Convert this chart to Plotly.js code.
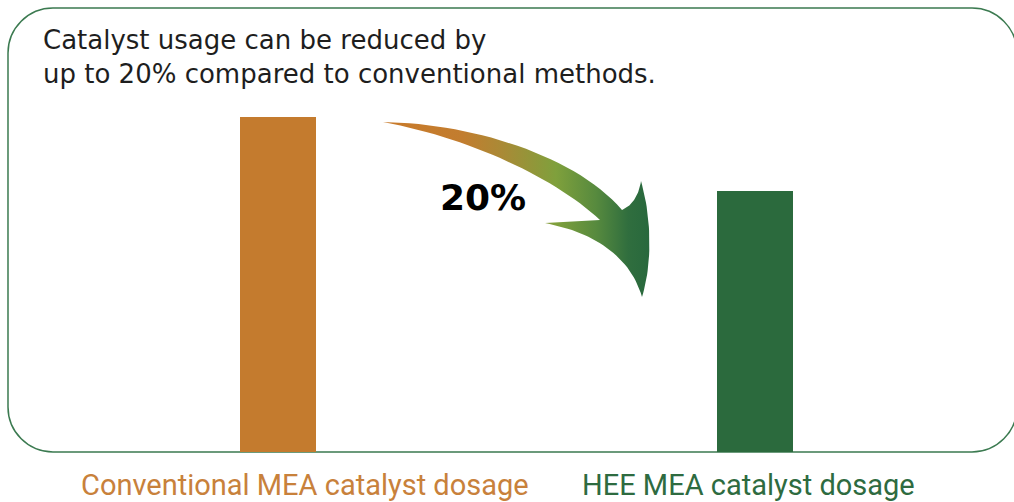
<!DOCTYPE html>
<html>
<head>
<meta charset="utf-8">
<script src="https://cdn.plot.ly/plotly-3.0.1.min.js"></script>
<style>
  html, body { margin: 0; padding: 0; background: #ffffff; }
  #chart { width: 1014px; height: 502px; }
</style>
</head>
<body>
<div id="chart"></div>
<script>
// ---- data ----
const categories = ['Conventional MEA catalyst dosage', 'HEE MEA catalyst dosage'];
const positions = [0, 1];
const dosage = [100, 78];
const barColors = ['#c47b2e', '#2b6a3d'];
const labelColors = ['#c8813b', '#2e6b40'];
const reductionText = '20%';
const headlineLines = ['Catalyst usage can be reduced by', 'up to 20% compared to conventional methods.'];

// ---- decoration geometry (overlay canvas axis, pixel-like units) ----
function cubic(p0, c1, c2, p3, n) {
  const pts = [];
  for (let i = 0; i <= n; i++) {
    const t = i / n, u = 1 - t;
    pts.push([
      u*u*u*p0[0] + 3*u*u*t*c1[0] + 3*u*t*t*c2[0] + t*t*t*p3[0],
      u*u*u*p0[1] + 3*u*u*t*c1[1] + 3*u*t*t*c2[1] + t*t*t*p3[1]
    ]);
  }
  return pts;
}
const arrowSegments = [
  [[383,122],[470,123],[575,155],[622,210]],
  [[622,210],[632,206],[639,195],[641,181]],
  [[641,181],[651,215],[653,262],[642,297]],
  [[642,297],[630,255],[592,232],[545,223]],
  [[545,223],[565,222],[585,221],[600,220]],
  [[600,220],[555,178],[470,138],[383,122]]
];
let arrowPts = [];
arrowSegments.forEach(s => { arrowPts = arrowPts.concat(cubic(s[0], s[1], s[2], s[3], 30)); });

function roundRectPath(x0, y0, x1, y1, r) {
  const k = 0.5523 * r;
  return `M ${x0+r},${y0} L ${x1-r},${y0} C ${x1-r+k},${y0} ${x1},${y0+r-k} ${x1},${y0+r} ` +
         `L ${x1},${y1-r} C ${x1},${y1-r+k} ${x1-r+k},${y1} ${x1-r},${y1} ` +
         `L ${x0+r},${y1} C ${x0+r-k},${y1} ${x0},${y1-r+k} ${x0},${y1-r} ` +
         `L ${x0},${y0+r} C ${x0},${y0+r-k} ${x0+r-k},${y0} ${x0+r},${y0} Z`;
}

const bars = {
  type: 'bar',
  x: positions,
  y: dosage,
  width: 0.159,
  marker: { color: barColors, line: { width: 0 } },
  hoverinfo: 'skip'
};

const arrow = {
  type: 'scatter',
  mode: 'lines',
  x: arrowPts.map(p => p[0]),
  y: arrowPts.map(p => p[1]),
  xaxis: 'x2',
  yaxis: 'y2',
  fill: 'toself',
  fillgradient: {
    type: 'horizontal',
    colorscale: [[0, '#c97a2a'], [0.3, '#c27d2f'], [0.45, '#a98a36'], [0.65, '#7fa03c'],
                 [0.8, '#578a3e'], [0.92, '#306e3e'], [1, '#28683d']]
  },
  line: { width: 0, color: 'rgba(0,0,0,0)' },
  hoverinfo: 'skip'
};

const TITLE_FONT = '"DejaVu Sans", "Noto Sans", sans-serif';
const LABEL_FONT = 'Roboto, "Noto Sans", sans-serif';

const layout = {
  width: 1014,
  height: 502,
  margin: { l: 0, r: 0, t: 0, b: 40, pad: 0 },
  paper_bgcolor: '#ffffff',
  plot_bgcolor: 'rgba(0,0,0,0)',
  showlegend: false,
  bargap: 0,
  xaxis: { range: [-0.5828, 1.5430], visible: false, fixedrange: true },
  yaxis: { range: [-10 / 3.35, 452 / 3.35], visible: false, fixedrange: true },
  xaxis2: { overlaying: 'x', range: [0, 1014], visible: false, fixedrange: true },
  yaxis2: { overlaying: 'y', range: [462, 0], visible: false, fixedrange: true },
  shapes: [{
    type: 'path',
    xref: 'x2', yref: 'y2',
    path: roundRectPath(8, 8, 1017, 452, 45),
    line: { color: '#3b7a50', width: 1.5 },
    fillcolor: 'rgba(0,0,0,0)',
    layer: 'below'
  }],
  annotations: [
    {
      xref: 'x2', yref: 'y2', x: 41, y: 23,
      xanchor: 'left', yanchor: 'top', align: 'left',
      text: headlineLines.join('<br>'),
      showarrow: false,
      font: { family: TITLE_FONT, size: 26, color: '#1e1e1e' }
    },
    {
      xref: 'x2', yref: 'y2', x: 483, y: 197,
      xanchor: 'center', yanchor: 'middle',
      text: '<b>' + reductionText + '</b>',
      showarrow: false,
      font: { family: '"DejaVu Sans", sans-serif', size: 36, color: '#000000' }
    },
    {
      xref: 'x', yref: 'paper', x: positions[0], y: -0.008, xshift: 27,
      xanchor: 'center', yanchor: 'top',
      text: categories[0], showarrow: false,
      font: { family: LABEL_FONT, size: 29, color: labelColors[0] }
    },
    {
      xref: 'x', yref: 'paper', x: positions[1], y: -0.008, xshift: -6,
      xanchor: 'center', yanchor: 'top',
      text: categories[1], showarrow: false,
      font: { family: LABEL_FONT, size: 29, color: labelColors[1] }
    }
  ]
};

Plotly.newPlot('chart', [bars, arrow], layout, { staticPlot: true, displayModeBar: false, responsive: false });
</script>
</body>
</html>
